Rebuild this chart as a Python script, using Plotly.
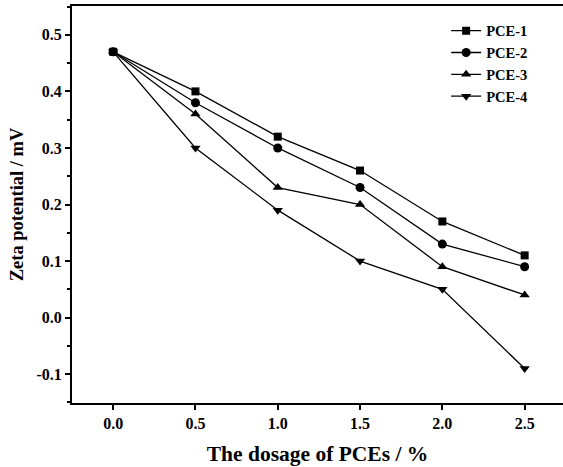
import plotly.graph_objects as go

dosage = [0.0, 0.5, 1.0, 1.5, 2.0, 2.5]
names = ["PCE-1", "PCE-2", "PCE-3", "PCE-4"]
pce1 = [0.47, 0.40, 0.32, 0.26, 0.17, 0.11]
pce2 = [0.47, 0.38, 0.30, 0.23, 0.13, 0.09]
pce3 = [0.47, 0.36, 0.23, 0.20, 0.09, 0.04]
pce4 = [0.47, 0.30, 0.19, 0.10, 0.05, -0.09]
series = [pce1, pce2, pce3, pce4]
symbols = ["square", "circle", "triangle-up", "triangle-down"]
msizes = [8, 9, 9, 9]

x_ticks = [0.0, 0.5, 1.0, 1.5, 2.0, 2.5]
x_ticktext = ["0.0", "0.5", "1.0", "1.5", "2.0", "2.5"]
y_ticks = [-0.1, 0.0, 0.1, 0.2, 0.3, 0.4, 0.5]
y_ticktext = ["-0.1", "0.0", "0.1", "0.2", "0.3", "0.4", "0.5"]

FONT = "Liberation Serif"

fig = go.Figure()
for i, (nm, ys) in enumerate(zip(names, series)):
    fig.add_trace(go.Scatter(
        x=dosage, y=ys, name=nm, mode="lines+markers",
        line=dict(color="black", width=1.3),
        marker=dict(symbol=symbols[i], size=msizes[i], color="black"),
        legendgroup=nm,
    ))

fig.update_layout(
    width=563, height=467,
    margin=dict(l=72, r=0, t=6, b=64),
    paper_bgcolor="white", plot_bgcolor="white",
    font=dict(family=FONT, color="black", size=15, weight="bold"),
    showlegend=True,
    legend=dict(
        x=0.762, y=0.978, xanchor="left", yanchor="top",
        font=dict(family=FONT, size=14.5, color="black", weight="bold"),
        bgcolor="rgba(0,0,0,0)", tracegroupgap=0,
    ),
    xaxis=dict(
        range=[-0.25, 2.733],
        showline=True, linecolor="black", linewidth=2, mirror=True,
        ticks="outside", ticklen=5, tickwidth=1.5, tickcolor="black",
        tickvals=x_ticks, ticktext=x_ticktext,
        showgrid=False, zeroline=False,
        tickfont=dict(family=FONT, size=16, weight="bold"),
        title=dict(text="The dosage of PCEs / %", standoff=15,
                   font=dict(family=FONT, size=21.5, weight="bold")),
    ),
    yaxis=dict(
        range=[-0.151, 0.551],
        showline=True, linecolor="black", linewidth=2, mirror=False,
        ticks="outside", ticklen=5, tickwidth=1.5, tickcolor="black",
        tickvals=y_ticks, ticktext=y_ticktext,
        minor=dict(ticks="outside", ticklen=3, tickwidth=1.5, tickcolor="black",
                   tickvals=[-0.15, -0.05, 0.05, 0.15, 0.25, 0.35, 0.45, 0.55]),
        showgrid=False, zeroline=False,
        tickfont=dict(family=FONT, size=16, weight="bold"),
        title=dict(text="Zeta potential / mV", standoff=8,
                   font=dict(family=FONT, size=18.5, weight="bold")),
    ),
)

fig.write_html("out.html")
